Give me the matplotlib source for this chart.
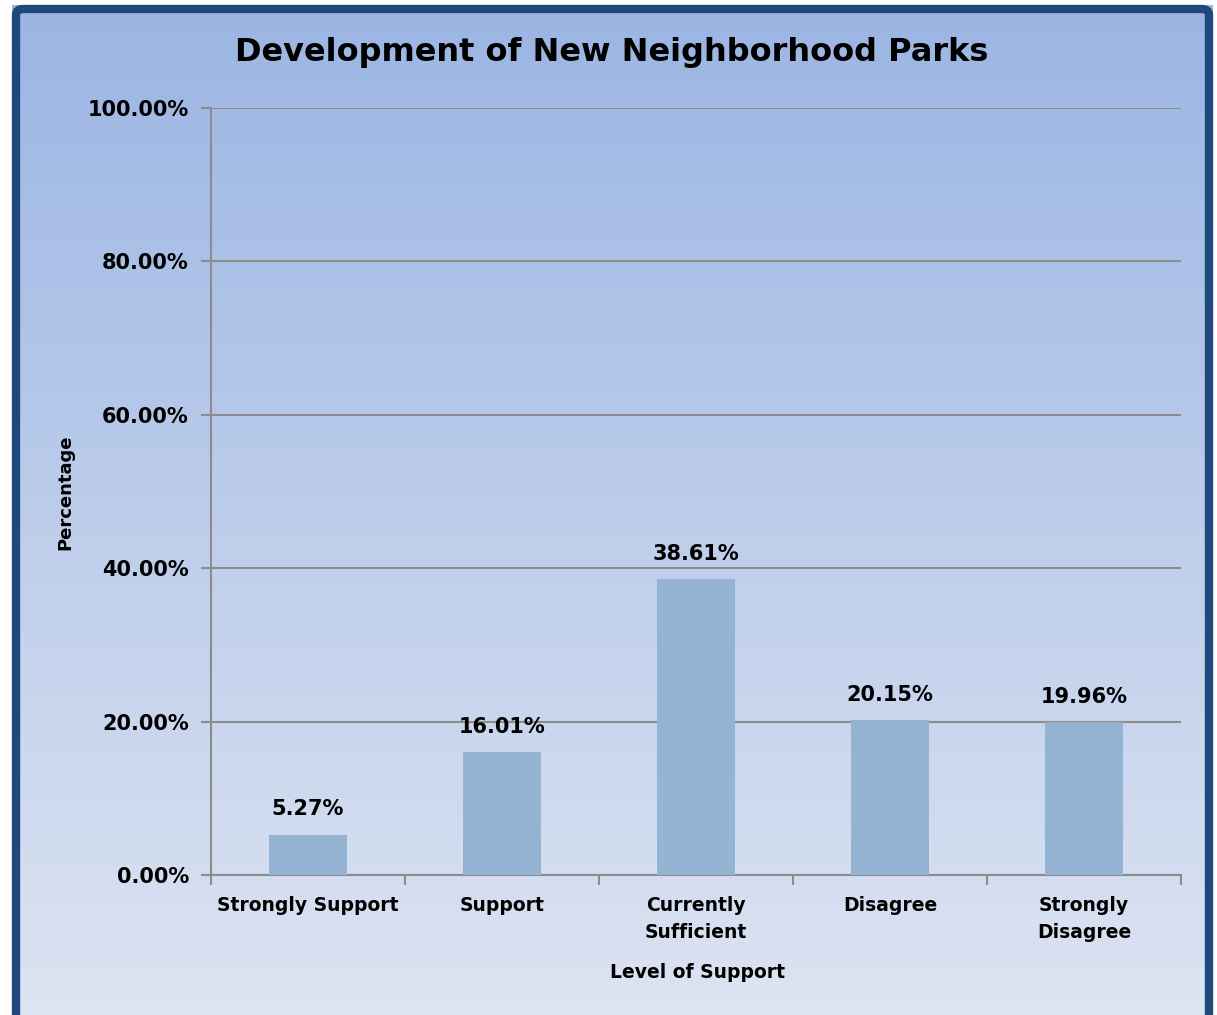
import numpy as np
import matplotlib.pyplot as plt
from matplotlib.patches import FancyBboxPatch
from matplotlib.colors import LinearSegmentedColormap

# Chart data
categories = ["Strongly Support", "Support", "Currently\nSufficient", "Disagree", "Strongly\nDisagree"]
values = [5.27, 16.01, 38.61, 20.15, 19.96]
y_ticks = [0, 20, 40, 60, 80, 100]

plt.rcParams['font.family'] = ['DejaVu Sans']
plt.rcParams['font.weight'] = 'bold'

fig = plt.figure(figsize=(12.17, 10.15), dpi=100)
fig.patch.set_facecolor('white')

# Gradient background inside the frame
bg = fig.add_axes([12 / 1217, 0, (1213 - 12) / 1217, 1 - 5 / 1015])
bg.set_axis_off()
grad = LinearSegmentedColormap.from_list('bg', ['#9BB5E3', '#DDE4F2'])
bg.imshow(np.linspace(0, 1, 256).reshape(-1, 1), aspect='auto', cmap=grad,
          extent=[0, 1, 0, 1], origin='upper')
bg.set_xlim(0, 1)
bg.set_ylim(0, 1)

# Dark blue rounded border
frame = FancyBboxPatch((16 / 1217, -0.05), (1209 - 16) / 1217, 1.05 - 9 / 1015,
                       boxstyle="round,pad=0,rounding_size=0.006",
                       transform=fig.transFigure, facecolor='none',
                       edgecolor='#1F497D', linewidth=6, zorder=5)
fig.patches.append(frame)

ax = fig.add_axes([211 / 1217, 1 - 875 / 1015, (1181 - 211) / 1217, (875 - 108) / 1015])
ax.set_facecolor('none')

x = np.arange(len(categories))
ax.bar(x, values, width=0.4, color='#95B3D2', zorder=3)
for xi, v in zip(x, values):
    ax.text(xi, v + 2.0, f"{v:.2f}%", ha='center', va='bottom', fontsize=15, fontweight='bold')

ax.set_xlim(-0.5, len(categories) - 0.5)
ax.set_ylim(0, 100)
ax.set_yticks(y_ticks)
ax.set_yticklabels([f"{t:.2f}%" for t in y_ticks], fontsize=15, fontweight='bold')
ax.yaxis.grid(True, color='#8C8C8C', linewidth=1.5, zorder=1)
ax.set_axisbelow(True)

# category boundaries get the tick marks, names sit between them
ax.set_xticks(np.arange(-0.5, len(categories), 1.0))
ax.set_xticklabels([])
ax.set_xticks(x, minor=True)
ax.set_xticklabels(categories, minor=True, fontsize=13.5, fontweight='bold', linespacing=1.55)
ax.tick_params(axis='x', which='minor', length=0, pad=15)
ax.tick_params(axis='x', which='major', length=7, color='#8C8C8C', width=1.5)
ax.tick_params(axis='y', length=7, color='#8C8C8C', width=1.5, pad=9)

for s in ['top', 'right']:
    ax.spines[s].set_visible(False)
for s in ['left', 'bottom']:
    ax.spines[s].set_color('#8C8C8C')
    ax.spines[s].set_linewidth(1.5)

fig.text(612 / 1217, 1 - 53 / 1015, "Development of New Neighborhood Parks",
         ha='center', va='center', fontsize=23, fontweight='bold')
fig.text(65 / 1217, 1 - 492 / 1015, "Percentage", rotation=90,
         ha='center', va='center', fontsize=13, fontweight='bold')
fig.text(697 / 1217, 1 - 972 / 1015, "Level of Support",
         ha='center', va='center', fontsize=13.5, fontweight='bold')

fig.savefig('out.png', dpi=100)
